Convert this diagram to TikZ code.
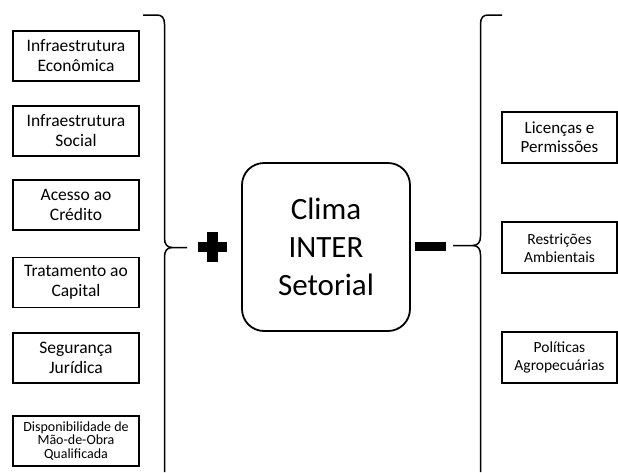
\documentclass[tikz,border=0pt]{standalone}
\usepackage{fontspec}
\setmainfont{Carlito}
\usetikzlibrary{positioning}

\begin{document}
\begin{tikzpicture}[
    x=1pt, y=-1pt,
    node distance=24pt,
    fator/.style={rectangle, draw, line width=1.8pt, minimum width=126pt, minimum height=50pt, align=center, inner sep=1pt, font=\fontsize{17.5}{20}\selectfont},
    restricao/.style={fator, minimum width=115pt, minimum height=51pt, font=\fontsize{15.5}{18}\selectfont},
    clima/.style={rectangle, draw, rounded corners=22pt, line width=1.8pt, minimum width=168pt, minimum height=168pt, align=center, font=\fontsize{31}{38}\selectfont},
    chave/.style={line width=1.5pt},
    sinal/.style={fill=black}
]
\useasboundingbox (0,0) rectangle (618,472);

% fatores positivos
\node[fator] (infraeco) at (76,56) {Infraestrutura\\Econômica};
\node[fator, below=23pt of infraeco] (infrasoc) {Infraestrutura\\Social};
\node[fator, below=22pt of infrasoc] (credito) {Acesso ao\\Crédito};
\node[fator, below=26pt of credito] (capital) {Tratamento ao\\Capital};
\node[fator, below=24pt of capital] (seguranca) {Segurança\\Jurídica};
\node[fator, below=31pt of seguranca, font=\fontsize{14}{13.5}\selectfont] (maodeobra) {Disponibilidade de\\Mão-de-Obra\\Qualificada};

% clima
\node[clima] (clima) at (326,247) {Clima\\INTER\\Setorial};

% fatores negativos
\node[restricao, font=\fontsize{17}{19}\selectfont] (licencas) at (559.5,137.5) {Licenças e\\Permissões};
\node[restricao, below=57.5pt of licencas] (ambientais) {Restrições\\Ambientais};
\node[restricao, below=57pt of ambientais] (politicas) {Políticas\\Agropecuárias};

% chaves
\draw[chave] (143,15) -- (157,15) .. controls (162,15) and (164.5,18) .. (164.5,24) -- (164.5,238)
    .. controls (164.5,244) and (167,247.5) .. (172,247.5) -- (187,247.5);
\draw[chave] (172,247.5) .. controls (167,247.5) and (164.5,251) .. (164.5,257) -- (164.5,472);
\draw[chave] (502,15) -- (488,15) .. controls (483,15) and (480.5,18) .. (480.5,24) -- (480.5,236)
    .. controls (480.5,242) and (478,245.5) .. (473,245.5) -- (453,245.5);
\draw[chave] (473,245.5) .. controls (478,245.5) and (480.5,249) .. (480.5,255) -- (480.5,472);

% sinais
\fill[sinal] (207,232) rectangle (218,262);
\fill[sinal] (198,241.5) rectangle (227,252);
\fill[sinal] (415,242) rectangle (446,251);

\end{tikzpicture}
\end{document}
